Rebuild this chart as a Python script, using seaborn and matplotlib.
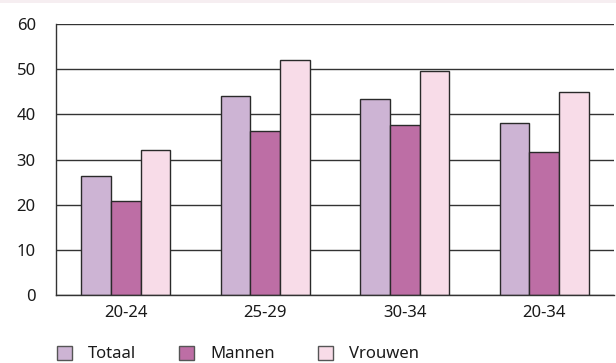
import pandas as pd
import numpy as np
import matplotlib
matplotlib.use("Agg")
import matplotlib.pyplot as plt
import seaborn as sns

# data
leeftijd = ['20-24', '25-29', '30-34', '20-34']
totaal = [26.3, 44.0, 43.5, 38.1]
mannen = [20.8, 36.3, 37.7, 31.7]
vrouwen = [32.1, 52.1, 49.5, 44.9]
reeksen = ['Totaal', 'Mannen', 'Vrouwen']
kleuren = ['#CDB4D4', '#BD6EA5', '#F8DCE8']

df = pd.DataFrame({'Leeftijd': leeftijd * 3,
                   'Groep': np.repeat(reeksen, len(leeftijd)),
                   'Waarde': totaal + mannen + vrouwen})

sns.set_style('white')
plt.rcParams['font.family'] = ['Noto Sans', 'DejaVu Sans']

fig = plt.figure(figsize=(6.16, 3.63), dpi=100)
ax = fig.add_axes([56 / 616, 68 / 363, 558 / 616, 271 / 363])

sns.barplot(data=df, x='Leeftijd', y='Waarde', hue='Groep', palette=kleuren,
            width=0.64, gap=0, edgecolor='#2a2a2a', linewidth=1.0,
            saturation=1, ax=ax, legend=False)

ax.set_ylim(0, 60)
ax.set_xlim(-0.5, 3.5)
ax.set_yticks(range(0, 61, 10))
ax.grid(axis='y', color='#333333', linewidth=1.0)
ax.set_axisbelow(True)
ax.set_xlabel('')
ax.set_ylabel('')

for s in ['top', 'right']:
    ax.spines[s].set_visible(False)
for s in ['left', 'bottom']:
    ax.spines[s].set_color('#333333')
    ax.spines[s].set_linewidth(1.0)

ax.tick_params(axis='y', length=0, pad=14.5, labelsize=12, labelcolor='#1a1a1a')
ax.tick_params(axis='x', length=0, pad=7, labelsize=12, labelcolor='#1a1a1a')
ax.set_xticks([0.5, 1.5, 2.5, 3.5], minor=True)
ax.tick_params(axis='x', which='minor', direction='in', length=6,
               width=1.0, color='#333333')

# legend at the bottom
handles = [plt.Rectangle((0, 0), 1, 1, facecolor=c, edgecolor='#555555', linewidth=1.0)
           for c in kleuren]
fig.legend(handles, reeksen, loc='center left', bbox_to_anchor=(57 / 616, 9 / 363),
           ncol=3, frameon=False, fontsize=12, handlelength=0.9, handleheight=0.9,
           handletextpad=0.95, columnspacing=2.6, borderaxespad=0, borderpad=0,
           labelcolor='#1a1a1a')

# thin pink strip at top
fig.patches.append(plt.Rectangle((0, 1 - 3 / 363), 1, 3 / 363, transform=fig.transFigure,
                                 facecolor='#F6EEF1', edgecolor='none'))

fig.savefig('out.png', dpi=100)
